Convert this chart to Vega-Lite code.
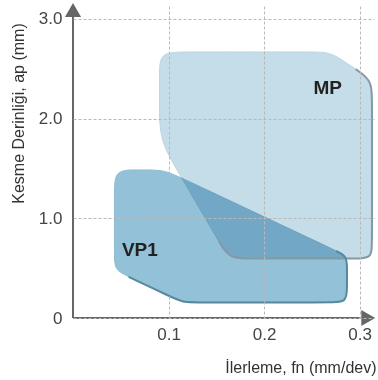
{
  "$schema": "https://vega.github.io/schema/vega-lite/v6.json",
  "width": 301,
  "height": 312,
  "autosize": {"type": "none"},
  "padding": {"left": 73, "top": 6, "right": 4, "bottom": 62},
  "background": "white",
  "config": {"view": {"stroke": null}, "font": "Liberation Sans"},
  "datasets": {
    "shapes": [
      {"shape": "MP", "i": 1, "x": 0.0905, "y": 2.428},
      {"shape": "MP", "i": 2, "x": 0.0905, "y": 2.669},
      {"shape": "MP", "i": 3, "x": 0.1156, "y": 2.669},
      {"shape": "MP", "i": 4, "x": 0.2485, "y": 2.669},
      {"shape": "MP", "i": 5, "x": 0.2695, "y": 2.669},
      {"shape": "MP", "i": 6, "x": 0.2866, "y": 2.554},
      {"shape": "MP", "i": 7, "x": 0.2952, "y": 2.502},
      {"shape": "MP", "i": 8, "x": 0.3124, "y": 2.388},
      {"shape": "MP", "i": 9, "x": 0.3124, "y": 2.187},
      {"shape": "MP", "i": 10, "x": 0.3124, "y": 0.762},
      {"shape": "MP", "i": 11, "x": 0.3124, "y": 0.602},
      {"shape": "MP", "i": 12, "x": 0.2956, "y": 0.602},
      {"shape": "MP", "i": 13, "x": 0.1837, "y": 0.602},
      {"shape": "MP", "i": 14, "x": 0.1627, "y": 0.602},
      {"shape": "MP", "i": 15, "x": 0.1522, "y": 0.775},
      {"shape": "MP", "i": 16, "x": 0.109, "y": 1.483},
      {"shape": "MP", "i": 17, "x": 0.0905, "y": 1.786},
      {"shape": "MP", "i": 18, "x": 0.0905, "y": 2.137},
      {"shape": "VP1", "i": 1, "x": 0.0434, "y": 1.264},
      {"shape": "VP1", "i": 2, "x": 0.0434, "y": 1.485},
      {"shape": "VP1", "i": 3, "x": 0.0665, "y": 1.485},
      {"shape": "VP1", "i": 4, "x": 0.0748, "y": 1.485},
      {"shape": "VP1", "i": 5, "x": 0.0958, "y": 1.485},
      {"shape": "VP1", "i": 6, "x": 0.1147, "y": 1.4},
      {"shape": "VP1", "i": 7, "x": 0.2748, "y": 0.677},
      {"shape": "VP1", "i": 8, "x": 0.2862, "y": 0.626},
      {"shape": "VP1", "i": 9, "x": 0.2862, "y": 0.506},
      {"shape": "VP1", "i": 10, "x": 0.2862, "y": 0.321},
      {"shape": "VP1", "i": 11, "x": 0.2862, "y": 0.161},
      {"shape": "VP1", "i": 12, "x": 0.2695, "y": 0.161},
      {"shape": "VP1", "i": 13, "x": 0.1303, "y": 0.161},
      {"shape": "VP1", "i": 14, "x": 0.1146, "y": 0.161},
      {"shape": "VP1", "i": 15, "x": 0.1004, "y": 0.224},
      {"shape": "VP1", "i": 16, "x": 0.0577, "y": 0.418},
      {"shape": "VP1", "i": 17, "x": 0.0434, "y": 0.482},
      {"shape": "VP1", "i": 18, "x": 0.0434, "y": 0.632}
    ],
    "axes": [
      {"x": 0, "x2": 0, "y": 0, "y2": 3.02},
      {"x": 0, "x2": 0.3, "y": 0, "y2": 0}
    ],
    "arrows": [
      {"x": 0, "y": 3.09, "s": "triangle-up"},
      {"x": 0.309, "y": 0, "s": "triangle-right"}
    ],
    "labels": [
      {"x": 0.2665, "y": 2.31, "t": "MP"},
      {"x": 0.07, "y": 0.68, "t": "VP1"}
    ]
  },
  "layer": [
    {
      "data": {"name": "shapes"},
      "transform": [{"filter": "datum.shape == 'MP'"}],
      "mark": {"type": "line", "interpolate": "basis-closed", "fill": "#c5dde9", "stroke": "#bcd6e3", "strokeWidth": 1},
      "encoding": {
        "x": {"field": "x", "type": "quantitative", "scale": {"domain": [0, 0.315], "nice": false, "zero": false},
          "axis": {"values": [0.1, 0.2, 0.3], "format": ".1f", "grid": true, "gridDash": [3, 2], "gridColor": "#b8b8b8", "gridWidth": 1,
            "domain": false, "ticks": false, "labelFontSize": 17, "labelColor": "#444", "labelPadding": 8, "zindex": 1,
            "title": "İlerleme, fn (mm/dev)", "titleFontSize": 16, "titleFontWeight": "normal", "titleColor": "#333",
            "titleAnchor": "end", "titleAlign": "right", "titleBaseline": "middle", "titleX": 303, "titleY": 49}},
        "y": {"field": "y", "type": "quantitative", "scale": {"domain": [0, 3.13], "nice": false, "zero": false},
          "axis": {"values": [0, 1, 2, 3], "labelExpr": "datum.value == 0 ? '0' : format(datum.value, '.1f')", "grid": true, "gridDash": [3, 2], "gridColor": "#b8b8b8", "gridWidth": 1,
            "domain": false, "ticks": false, "labelFontSize": 17, "labelColor": "#444", "labelPadding": 11, "zindex": 1,
            "title": "Kesme Derinliği, ap (mm)", "titleFontSize": 16, "titleFontWeight": "normal", "titleColor": "#333",
            "titleAngle": -90, "titleAlign": "center", "titleBaseline": "middle", "titleX": -55, "titleY": 107}},
        "order": {"field": "i", "type": "quantitative"}
      }
    },
    {
      "data": {"name": "shapes"},
      "transform": [{"filter": "datum.shape == 'VP1'"}],
      "mark": {"type": "line", "interpolate": "basis-closed", "fill": "#93c2d8", "stroke": "#8bbbd2", "strokeWidth": 1, "blend": "multiply"},
      "encoding": {
        "x": {"field": "x", "type": "quantitative"},
        "y": {"field": "y", "type": "quantitative"},
        "order": {"field": "i", "type": "quantitative"}
      }
    },
    {
      "data": {"name": "shapes"},
      "transform": [{"filter": "datum.shape == 'MP' && datum.i >= 7 && datum.i <= 15"}],
      "mark": {"type": "line", "interpolate": "basis", "stroke": "#8599a4", "strokeWidth": 2, "yOffset": 0.5, "xOffset": 0.5},
      "encoding": {
        "x": {"field": "x", "type": "quantitative"},
        "y": {"field": "y", "type": "quantitative"},
        "order": {"field": "i", "type": "quantitative"}
      }
    },
    {
      "data": {"name": "shapes"},
      "transform": [{"filter": "datum.shape == 'VP1' && datum.i >= 7 && datum.i <= 16"}],
      "mark": {"type": "line", "interpolate": "basis", "stroke": "#5688a0", "strokeWidth": 2, "yOffset": 0.5, "xOffset": 0.5},
      "encoding": {
        "x": {"field": "x", "type": "quantitative"},
        "y": {"field": "y", "type": "quantitative"},
        "order": {"field": "i", "type": "quantitative"}
      }
    },
    {
      "data": {"name": "axes"},
      "mark": {"type": "rule", "color": "#666", "strokeWidth": 2},
      "encoding": {
        "x": {"field": "x", "type": "quantitative"},
        "x2": {"field": "x2"},
        "y": {"field": "y", "type": "quantitative"},
        "y2": {"field": "y2"}
      }
    },
    {
      "data": {"name": "arrows"},
      "mark": {"type": "point", "filled": true, "color": "#666", "size": 260, "opacity": 1},
      "encoding": {
        "x": {"field": "x", "type": "quantitative"},
        "y": {"field": "y", "type": "quantitative"},
        "shape": {"field": "s", "type": "nominal", "scale": null}
      }
    },
    {
      "data": {"name": "labels"},
      "mark": {"type": "text", "fontSize": 19, "fontWeight": "bold", "color": "#222"},
      "encoding": {
        "x": {"field": "x", "type": "quantitative"},
        "y": {"field": "y", "type": "quantitative"},
        "text": {"field": "t"}
      }
    }
  ]
}
